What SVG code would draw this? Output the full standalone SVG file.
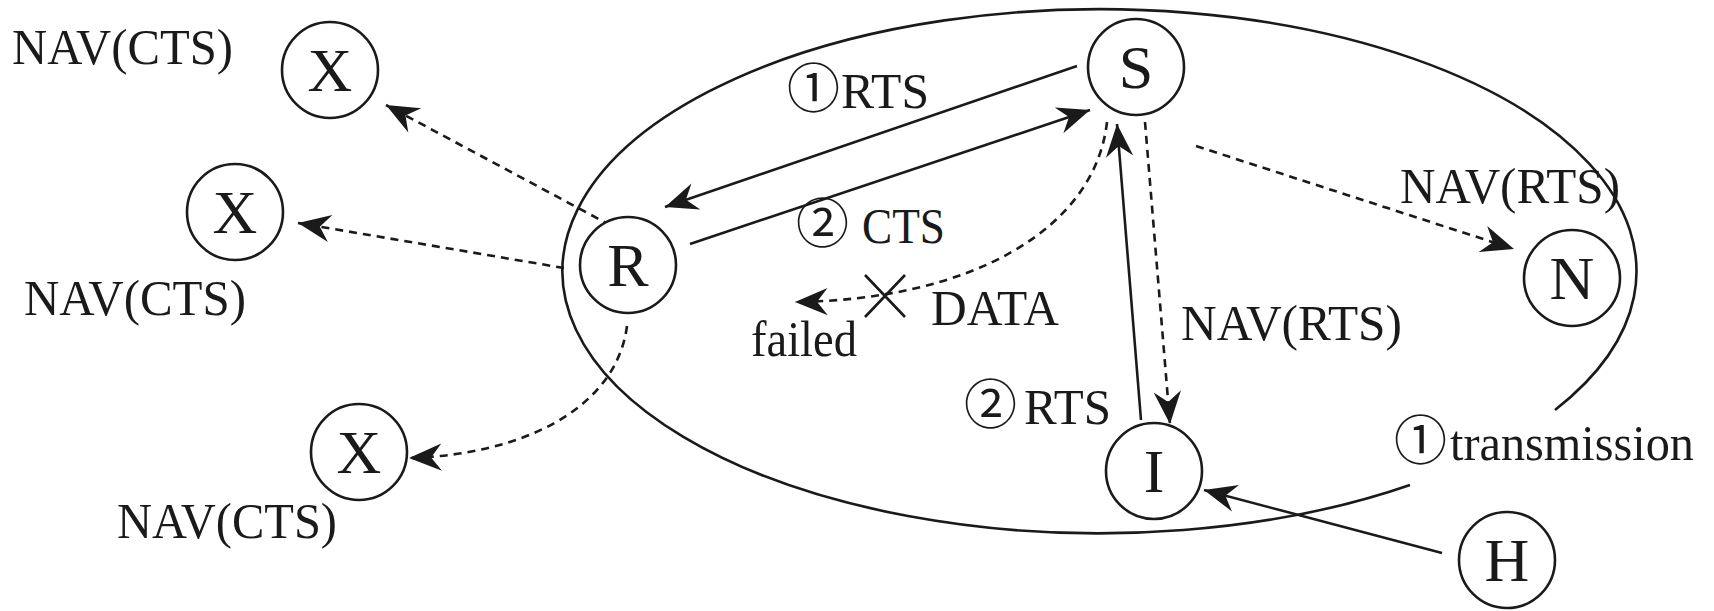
<svg xmlns="http://www.w3.org/2000/svg" width="1714" height="611" viewBox="0 0 1714 611">
<style>
.node{fill:#fff;stroke:#1a1a1a;stroke-width:2.6}
.nl{font-family:"Liberation Serif","Times New Roman",serif;font-size:62px;fill:#1a1a1a;text-anchor:middle}
.lbl{font-family:"Liberation Serif","Times New Roman","Noto Sans CJK SC",serif;font-size:50px;fill:#1a1a1a}
.cn{font-family:"Noto Sans CJK SC","DejaVu Sans",sans-serif;font-size:53px;fill:#1a1a1a}
.solid{fill:none;stroke:#1a1a1a;stroke-width:2.6;marker-end:url(#ah)}
.dash{fill:none;stroke:#1a1a1a;stroke-width:2.6;stroke-dasharray:8 6;marker-end:url(#ah)}
.rng{fill:none;stroke:#1a1a1a;stroke-width:2.6}
</style>
<defs>
<marker id="ah" markerUnits="userSpaceOnUse" markerWidth="40" markerHeight="40" viewBox="-34 -17 38 34" refX="0" refY="0" orient="auto">
<path d="M0,0 L-31,-13 L-21,0 L-31,13 Z" fill="#1a1a1a"/>
</marker>
</defs>
<rect width="1714" height="611" fill="#fff"/>
<path id="range" class="rng" d="M1410,485 A537,262 0 1 1 1555,410"/>
<g id="connectors">
<path class="solid" d="M1077,66 L665,207"/>
<path class="solid" d="M690,244 L1090,110"/>
<path class="dash" d="M1107,122 C1095,230 970,300 795,302"/>
<path class="dash" d="M1196,146 L1514,249"/>
<path class="dash" d="M1145,122 L1170,424"/>
<path class="solid" d="M1141,420 L1117,124"/>
<path class="solid" d="M1442,553 L1204,490"/>
<path class="dash" d="M623,232 L386,105"/>
<path class="dash" d="M564,268 L298,223"/>
<path class="dash" d="M627,326 C616,410 520,455 409,458"/>
<path d="M865,275 L905,317 M905,275 L865,317" stroke="#1a1a1a" stroke-width="2.6" fill="none"/>
</g>
<g id="node-X1"><circle class="node" cx="330" cy="70" r="48"/><text class="nl" x="330" y="91">X</text></g>
<g id="node-X2"><circle class="node" cx="235" cy="212" r="48"/><text class="nl" x="235" y="233">X</text></g>
<g id="node-X3"><circle class="node" cx="359" cy="452" r="48"/><text class="nl" x="359" y="473">X</text></g>
<g id="node-R"><circle class="node" cx="628" cy="265" r="48"/><text class="nl" x="628" y="286">R</text></g>
<g id="node-S"><circle class="node" cx="1136" cy="67" r="48"/><text class="nl" x="1136" y="88">S</text></g>
<g id="node-N"><circle class="node" cx="1572" cy="278" r="48"/><text class="nl" x="1572" y="299">N</text></g>
<g id="node-I"><circle class="node" cx="1154" cy="471" r="48"/><text class="nl" x="1154" y="492">I</text></g>
<g id="node-H"><circle class="node" cx="1507" cy="560" r="48"/><text class="nl" x="1507" y="581">H</text></g>
<g id="labels">
<text class="lbl" x="12" y="64" textLength="221" lengthAdjust="spacingAndGlyphs">NAV(CTS)</text>
<text class="lbl" x="24" y="315" textLength="222" lengthAdjust="spacingAndGlyphs">NAV(CTS)</text>
<text class="lbl" x="117" y="538" textLength="220" lengthAdjust="spacingAndGlyphs">NAV(CTS)</text>
<text class="lbl" x="1400" y="203" textLength="220" lengthAdjust="spacingAndGlyphs">NAV(RTS)</text>
<text class="lbl" x="1181" y="340" textLength="221" lengthAdjust="spacingAndGlyphs">NAV(RTS)</text>
<text class="lbl" x="931" y="325" textLength="128" lengthAdjust="spacingAndGlyphs">DATA</text>
<text class="lbl" x="751" y="356" textLength="106" lengthAdjust="spacingAndGlyphs">failed</text>
<text class="lbl" y="108"><tspan class="cn" x="787">①</tspan><tspan x="841" textLength="88" lengthAdjust="spacingAndGlyphs">RTS</tspan></text>
<text class="lbl" y="243"><tspan class="cn" x="796">②</tspan><tspan> </tspan><tspan x="862" textLength="83" lengthAdjust="spacingAndGlyphs">CTS</tspan></text>
<text class="lbl" y="424"><tspan class="cn" x="964">②</tspan><tspan x="1024" textLength="87" lengthAdjust="spacingAndGlyphs">RTS</tspan></text>
<text class="lbl" y="460"><tspan class="cn" x="1394">①</tspan><tspan x="1450" textLength="244" lengthAdjust="spacingAndGlyphs">transmission</tspan></text>
</g>
</svg>
